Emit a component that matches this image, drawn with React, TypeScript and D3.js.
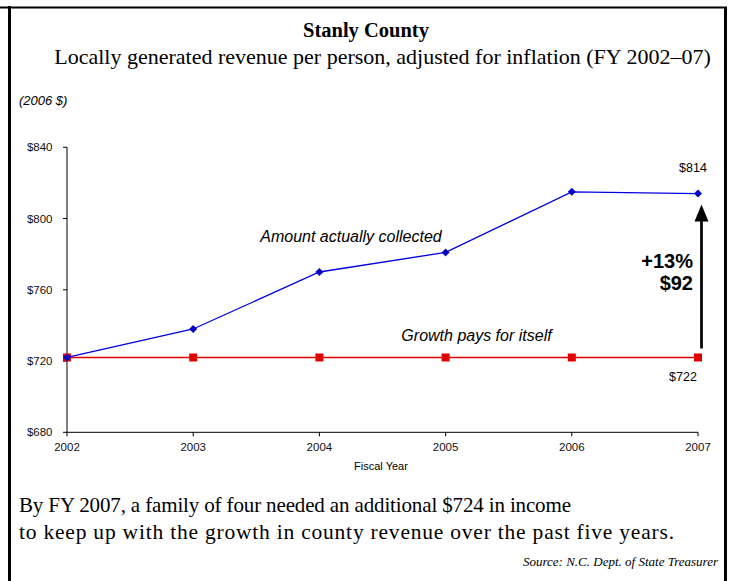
import React from "react";
import * as d3 from "d3";

const years = [2002, 2003, 2004, 2005, 2006, 2007];
const collected = [722, 738, 770, 781, 815, 814];
const baseline = [722, 722, 722, 722, 722, 722];
const yTicks = [680, 720, 760, 800, 840];

const W = 731;
const H = 581;

export default function App() {
  const x = d3.scaleLinear().domain([2002, 2007]).range([67, 698]);
  const y = d3.scaleLinear().domain([680, 840]).range([432.3, 147.3]);
  const line = d3
    .line<number>()
    .x((_, i) => x(years[i]))
    .y((d) => y(d));
  const sans = "Liberation Sans, Arial, sans-serif";
  const serif = "Liberation Serif, Times New Roman, serif";
  const x2007 = x(2007);
  return (
    <svg
      width={W}
      height={H}
      style={{ position: "absolute", left: 0, top: 0, background: "#fff" }}
    >
      {/* frame */}
      <line x1={0} x2={727} y1={7.5} y2={7.5} stroke="#000" strokeWidth={2} />
      <line x1={9.5} x2={9.5} y1={6} y2={H} stroke="#000" strokeWidth={3} />
      <line x1={725.5} x2={725.5} y1={7} y2={H} stroke="#000" strokeWidth={3} />

      <text x={366} y={37} textAnchor="middle" fontFamily={serif} fontWeight="bold" fontSize={20.5}>
        Stanly County
      </text>
      <text x={382.5} y={64} textAnchor="middle" fontFamily={serif} fontSize={22}>
        Locally generated revenue per person, adjusted for inflation (FY 2002–07)
      </text>
      <text x={19} y={105} fontFamily={sans} fontStyle="italic" fontSize={13}>
        (2006 $)
      </text>

      {/* axes */}
      <line x1={67} x2={67} y1={y(840)} y2={y(680)} stroke="#000" strokeWidth={1} />
      <line x1={67} x2={698} y1={y(680)} y2={y(680)} stroke="#000" strokeWidth={1} />
      {yTicks.map((t) => (
        <g key={t}>
          <line x1={63} x2={67} y1={y(t)} y2={y(t)} stroke="#000" />
          <text x={52.5} y={y(t) + 4} textAnchor="end" fontFamily={sans} fontSize={11.5} fill="#111">
            {d3.format("$")(t)}
          </text>
        </g>
      ))}
      {years.map((yr) => (
        <g key={yr}>
          <line x1={x(yr)} x2={x(yr)} y1={y(680)} y2={y(680) + 4} stroke="#000" />
          <text x={x(yr)} y={451} textAnchor="middle" fontFamily={sans} fontSize={11.5} fill="#111">
            {yr}
          </text>
        </g>
      ))}
      <text x={381} y={470} textAnchor="middle" fontFamily="Liberation Sans Narrow, Arial Narrow, sans-serif" fontSize={11}>
        Fiscal Year
      </text>

      {/* series */}
      <path d={line(baseline) || ""} fill="none" stroke="#e00000" strokeWidth={1.3} />
      {baseline.map((v, i) => (
        <rect key={i} x={x(years[i]) - 4} y={y(v) - 4} width={8} height={8} fill="#e00000" />
      ))}
      <path d={line(collected) || ""} fill="none" stroke="#0000e0" strokeWidth={1.3} />
      {collected.map((v, i) => (
        <path
          key={i}
          d={`M${x(years[i])},${y(v) - 4}L${x(years[i]) + 4},${y(v)}L${x(years[i])},${y(v) + 4}L${x(years[i]) - 4},${y(v)}Z`}
          fill="#0000c8"
        />
      ))}

      {/* annotations */}
      <text x={351} y={242} textAnchor="middle" fontFamily={sans} fontStyle="italic" fontSize={16}>
        Amount actually collected
      </text>
      <text x={476.5} y={341} textAnchor="middle" fontFamily={sans} fontStyle="italic" fontSize={16}>
        Growth pays for itself
      </text>
      <text x={693} y={172} textAnchor="middle" fontFamily={sans} fontSize={12.5}>
        {d3.format("$")(collected[5])}
      </text>
      <text x={683} y={381} textAnchor="middle" fontFamily={sans} fontSize={12.5}>
        {d3.format("$")(baseline[5])}
      </text>
      <line x1={x2007 + 3.5} x2={x2007 + 3.5} y1={y(baseline[5]) - 9} y2={y(collected[5]) + 24} stroke="#000" strokeWidth={2.7} />
      <path
        d={`M${x2007 + 3.5},${y(collected[5]) + 11}L${x2007 + 10.5},${y(collected[5]) + 28}L${x2007 - 3.5},${y(collected[5]) + 28}Z`}
        fill="#000"
      />
      <text x={693} y={268} textAnchor="end" fontFamily={sans} fontWeight="bold" fontSize={20}>
        +13%
      </text>
      <text x={693} y={290} textAnchor="end" fontFamily={sans} fontWeight="bold" fontSize={20}>
        $92
      </text>

      {/* footer */}
      <text x={19} y={512} fontFamily={serif} fontSize={21} textLength={552} lengthAdjust="spacing">
        By FY 2007, a family of four needed an additional $724 in income
      </text>
      <text x={19} y={539} fontFamily={serif} fontSize={21.5} textLength={655} lengthAdjust="spacing">
        to keep up with the growth in county revenue over the past five years.
      </text>
      <text x={718} y={566} textAnchor="end" fontFamily={serif} fontStyle="italic" fontSize={13}>
        Source: N.C. Dept. of State Treasurer
      </text>
    </svg>
  );
}
